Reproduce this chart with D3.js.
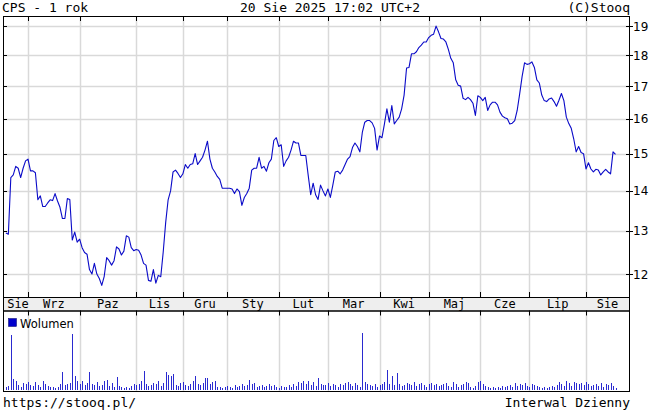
<!DOCTYPE html>
<html><head><meta charset="utf-8">
<script src="https://cdn.jsdelivr.net/npm/d3@7"></script>
<style>
html,body{margin:0;padding:0;background:#fff;}
svg{display:block;}
</style></head>
<body>
<svg id="chart" width="650" height="413"></svg>
<script>
// ---- data ----
const closes = [
12.95,12.92,14.35,14.42,14.65,14.6,14.35,14.6,14.8,14.85,
14.53,14.53,14.48,13.77,13.87,13.6,13.6,13.69,13.77,13.75,
13.93,13.74,13.58,13.3,13.3,13.8,13.78,12.78,12.97,12.73,
12.8,12.6,12.49,12.45,12.1,12.0,12.24,12.0,11.9,11.75,
11.95,12.37,12.3,12.2,12.3,12.62,12.57,12.43,12.52,12.88,
12.85,12.6,12.53,12.56,12.54,12.43,12.24,12.2,11.86,11.84,
12.1,11.8,11.97,11.94,12.5,13.2,13.77,14.0,14.5,14.55,
14.46,14.35,14.45,14.7,14.6,14.7,14.72,15.0,14.7,14.8,
14.9,15.1,15.35,14.85,14.6,14.5,14.38,14.3,14.07,14.07,
14.07,14.07,14.05,13.93,14.05,13.98,13.63,13.83,13.93,14.07,
14.55,14.6,14.6,14.9,14.6,14.65,14.52,14.75,14.85,15.37,
15.45,15.2,15.25,14.65,14.8,14.9,15.1,15.35,15.3,15.3,
14.95,14.95,14.95,14.4,13.9,14.2,13.9,13.78,14.15,14.0,
13.87,14.05,13.83,14.15,14.5,14.52,14.45,14.55,14.7,14.85,
14.92,15.17,15.3,15.2,15.05,15.6,15.9,15.95,15.95,15.88,
15.72,15.1,15.5,15.45,15.85,16.3,15.9,16.4,15.85,15.95,
16.05,16.3,16.72,17.58,17.6,18.05,18.05,18.12,18.26,18.34,
18.45,18.45,18.6,18.68,18.72,19.0,18.8,18.57,18.55,18.45,
18.2,17.9,17.75,17.2,17.03,17.0,16.62,16.58,16.65,16.58,
16.47,16.1,16.7,16.65,16.55,16.65,16.25,16.42,16.5,16.5,
16.42,16.2,16.08,16.03,16.0,15.85,15.87,15.95,16.25,16.75,
17.3,17.75,17.7,17.72,17.78,17.6,17.2,17.1,16.72,16.55,
16.52,16.6,16.63,16.52,16.38,16.56,16.77,16.55,16.05,15.86,
15.72,15.42,15.05,15.2,15.03,15.0,14.58,14.75,14.58,14.5,
14.57,14.55,14.42,14.5,14.57,14.5,14.45,15.05,14.98
];
const volumes = [
3,4,55,11,9,5,3,7,6,8,
5,4,8,5,3,9,6,4,3,3,
2,3,6,18,5,6,7,56,14,9,
6,9,5,7,18,6,5,8,4,5,
9,10,4,7,3,13,4,3,2,3,
2,4,6,5,6,9,19,6,4,5,
7,6,9,4,7,18,15,14,16,5,
4,7,8,5,4,6,9,14,6,5,
7,12,12,6,8,9,3,3,2,3,
4,3,2,5,3,4,6,4,5,10,
6,7,3,4,5,3,4,6,4,5,
3,2,4,3,3,5,3,6,4,8,
7,9,6,9,5,8,4,12,6,5,
5,7,4,6,5,3,6,5,7,8,
6,4,7,5,3,57,8,6,5,4,
6,3,5,6,8,20,6,14,5,17,
6,4,5,7,6,5,8,4,6,7,
5,3,6,7,5,6,4,5,6,7,
4,3,8,6,3,5,6,8,7,3,
2,4,8,9,6,4,3,2,3,2,
3,2,4,3,4,5,3,7,4,6,
5,7,4,3,6,5,4,3,2,3,
2,3,4,3,5,8,6,4,9,7,
4,8,7,6,7,5,8,6,4,5,
6,4,7,3,6,5,7,4,2
];
const monthLabels = ["Sie","Wrz","Paz","Lis","Gru","Sty","Lut","Mar","Kwi","Maj","Cze","Lip","Sie"];
const monthStartIdx = [9,30,53,72,90,111,131,152,172,193,213,236];
const priceTicks = [12,13,14,15,16,17,18,19];
const titleLeft = "CPS - 1 rok";
const titleMid = "20 Sie 2025 17:02 UTC+2";
const titleRight = "(C)Stooq";
const footLeft = "https://stooq.pl/";
const footRight = "Interwal Dzienny";
const legendLabel = "Wolumen";

// ---- layout ----
const L = 3, R = 629;
const mainTop = 16, mainBot = 297;
const bandBot = 310.5;
const volTop = 310.5, volBot = 391;
const mono = "'DejaVu Sans Mono', monospace";
const sans = "'DejaVu Sans', sans-serif";
const lineColor = "#0a0ac8";
const gridColor = "#d9d9d9";

const svg = d3.select("#chart");

const x = d3.scaleLinear().domain([0, closes.length - 1]).range([5.9, 615.5]);
const y = d3.scaleLog().domain([11.5, 19.36]).range([mainBot, mainTop]);
const yv = d3.scaleLinear().domain([0, 60]).range([390, 330]);

const crisp = v => Math.round(v) + 0.5;

// header
svg.append("text").attr("x", 2).attr("y", 12).attr("font-family", mono).attr("font-size", 13).text(titleLeft);
svg.append("text").attr("x", 240).attr("y", 12).attr("font-family", mono).attr("font-size", 13).text(titleMid);
svg.append("text").attr("x", 630).attr("y", 12).attr("text-anchor", "end").attr("font-family", mono).attr("font-size", 13).text(titleRight);

// main panel gridlines
const g = svg.append("g");
g.selectAll(".hg").data(priceTicks).join("line")
  .attr("x1", L).attr("x2", R).attr("y1", d => crisp(y(d))).attr("y2", d => crisp(y(d)))
  .attr("stroke", gridColor).attr("stroke-width", 1.5);
g.selectAll(".vg").data(monthStartIdx).join("line")
  .attr("x1", d => crisp(x(d))).attr("x2", d => crisp(x(d))).attr("y1", mainTop).attr("y2", mainBot)
  .attr("stroke", gridColor).attr("stroke-width", 1.5);

// volume gridlines
g.selectAll(".vgv").data(monthStartIdx).join("line")
  .attr("x1", d => crisp(x(d))).attr("x2", d => crisp(x(d))).attr("y1", volTop).attr("y2", volBot)
  .attr("stroke", gridColor).attr("stroke-width", 1.5);

// month band
svg.append("rect").attr("x", L + 0.5).attr("y", mainBot + 0.5).attr("width", R - L).attr("height", bandBot - mainBot)
  .attr("fill", "#eeeeee").attr("stroke", "#000").attr("stroke-width", 1);

const bounds = [L].concat(monthStartIdx.map(d => x(d))).concat([R]);
monthLabels.forEach((m, i) => {
  let cx = (bounds[i] + bounds[i + 1]) / 2;
  cx = Math.max(cx, L + 15);
  svg.append("text").attr("x", cx).attr("y", 308).attr("text-anchor", "middle")
    .attr("font-family", mono).attr("font-size", 12).text(m);
});

// ticks (dark) at month boundaries
const tk = svg.append("g").attr("stroke", "#000").attr("stroke-width", 1);
monthStartIdx.forEach(d => {
  const xx = crisp(x(d));
  tk.append("line").attr("x1", xx).attr("x2", xx).attr("y1", mainTop).attr("y2", mainTop + 5);
  tk.append("line").attr("x1", xx).attr("x2", xx).attr("y1", mainBot - 5).attr("y2", mainBot);
  tk.append("line").attr("x1", xx).attr("x2", xx).attr("y1", volTop).attr("y2", volTop + 5);
});
priceTicks.forEach(v => {
  const yy = crisp(y(v));
  tk.append("line").attr("x1", L).attr("x2", L + 4).attr("y1", yy).attr("y2", yy);
  tk.append("line").attr("x1", R - 3).attr("x2", R + 4).attr("y1", yy).attr("y2", yy);
});

// price labels
svg.selectAll(".pl").data(priceTicks).join("text")
  .attr("x", 633).attr("y", d => y(d) + 4.5)
  .attr("font-family", sans).attr("font-size", 12).text(d => d);

// price line
svg.append("path").datum(closes)
  .attr("d", d3.line().x((d, i) => x(i)).y(d => y(d)))
  .attr("fill", "none").attr("stroke", lineColor).attr("stroke-width", 1.1).attr("stroke-linejoin", "round");

// volume bars
svg.selectAll(".vb").data(volumes).join("rect")
  .attr("x", (d, i) => Math.round(x(i)))
  .attr("y", d => yv(d)).attr("width", 1).attr("height", d => yv(0) - yv(d))
  .attr("fill", "#2a2ad0");

// legend
svg.append("rect").attr("x", 8.5).attr("y", 318.5).attr("width", 8).attr("height", 8)
  .attr("fill", "#0000cc").attr("stroke", "#000066").attr("stroke-width", 0.5);
svg.append("text").attr("x", 20).attr("y", 327.5).attr("font-family", sans).attr("font-size", 11.5).text(legendLabel);

// borders
svg.append("rect").attr("x", L + 0.5).attr("y", mainTop + 0.5).attr("width", R - L).attr("height", mainBot - mainTop)
  .attr("fill", "none").attr("stroke", "#000");
svg.append("rect").attr("x", L + 0.5).attr("y", volTop + 0.5).attr("width", R - L).attr("height", volBot - volTop)
  .attr("fill", "none").attr("stroke", "#000");

// footer
svg.append("text").attr("x", 3).attr("y", 407).attr("font-family", mono).attr("font-size", 13).text(footLeft);
svg.append("text").attr("x", 630).attr("y", 407).attr("text-anchor", "end").attr("font-family", mono).attr("font-size", 13).text(footRight);
</script>
</body></html>
